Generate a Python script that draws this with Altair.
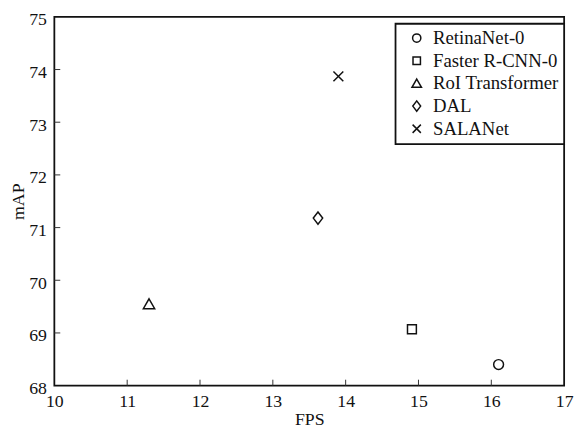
import altair as alt
import pandas as pd

models = ["RetinaNet-0", "Faster R-CNN-0", "RoI Transformer", "DAL", "SALANet"]
fps = [16.1, 14.91, 11.3, 13.62, 13.9]
map_vals = [68.4, 69.07, 69.55, 71.18, 73.87]
x_ticks = [10, 11, 12, 13, 14, 15, 16, 17]
y_ticks = [68, 69, 70, 71, 72, 73, 74, 75]

shapes = [
    "circle",
    "M-0.9,-0.9L0.9,-0.9L0.9,0.9L-0.9,0.9Z",
    "M0,-1.05L1.15,0.95L-1.15,0.95Z",
    "M0,-1.25L0.95,0L0,1.25L-0.95,0Z",
    "M-1,-1L1,1M1,-1L-1,1",
]

FONT = "Liberation Serif"
W, H = 517, 374

df = pd.DataFrame({"model": models, "FPS": fps, "mAP": map_vals})
xt = pd.DataFrame({"t": x_ticks[1:-1]})
yt = pd.DataFrame({"t": y_ticks[1:-1]})

xscale = alt.Scale(domain=[10, 17], nice=False, zero=False)
yscale = alt.Scale(domain=[68, 75], nice=False, zero=False)

points = alt.Chart(df).mark_point(filled=False, size=100, strokeWidth=1.5, opacity=1).encode(
    x=alt.X("FPS:Q", scale=xscale, title="FPS",
            axis=alt.Axis(values=x_ticks, format="d", ticks=False, domain=False, grid=False,
                          labelFlush=False, labelPadding=7, titlePadding=0)),
    y=alt.Y("mAP:Q", scale=yscale, title="mAP",
            axis=alt.Axis(values=y_ticks, format="d", ticks=False, domain=False, grid=False,
                          labelFlush=False, labelPadding=8, labelOffset=3, titlePadding=1)),
    shape=alt.Shape("model:N", scale=alt.Scale(domain=models, range=shapes),
                    legend=alt.Legend(title=None, orient="none", legendX=346, legendY=7,
                                      strokeColor="#111", padding=5,
                                      fillColor="white",
                                      symbolOffset=7, labelOffset=7, rowPadding=3,
                                      symbolSize=70, symbolStrokeWidth=1.5,
                                      symbolStrokeColor="#111", symbolFillColor="transparent",
                                      labelFont=FONT, labelFontSize=19, labelColor="#111",
                                      labelLimit=300)),
    stroke=alt.value("#111"),
)

xticks = alt.Chart(xt).mark_rule(color="#333", strokeWidth=1).encode(
    x=alt.X("t:Q", scale=xscale), y=alt.value(H), y2=alt.value(H - 6)
)
yticks = alt.Chart(yt).mark_rule(color="#333", strokeWidth=1).encode(
    y=alt.Y("t:Q", scale=yscale), x=alt.value(0), x2=alt.value(6)
)

chart = alt.layer(xticks, yticks, points).properties(
    width=W, height=H,
    background="white",
    autosize=alt.AutoSizeParams(type="none"),
    padding={"left": 47, "top": 6, "right": 10, "bottom": 40},
).configure_view(
    stroke="#111", strokeWidth=1.8
).configure_axis(
    labelFont=FONT, labelFontSize=18, labelColor="#111",
    titleFont=FONT, titleFontSize=18, titleColor="#111", titleFontWeight="normal",
).configure_legend(
    strokeWidth=1.8
)

chart.save("out.html", embed_options={"renderer": "svg", "actions": False})
